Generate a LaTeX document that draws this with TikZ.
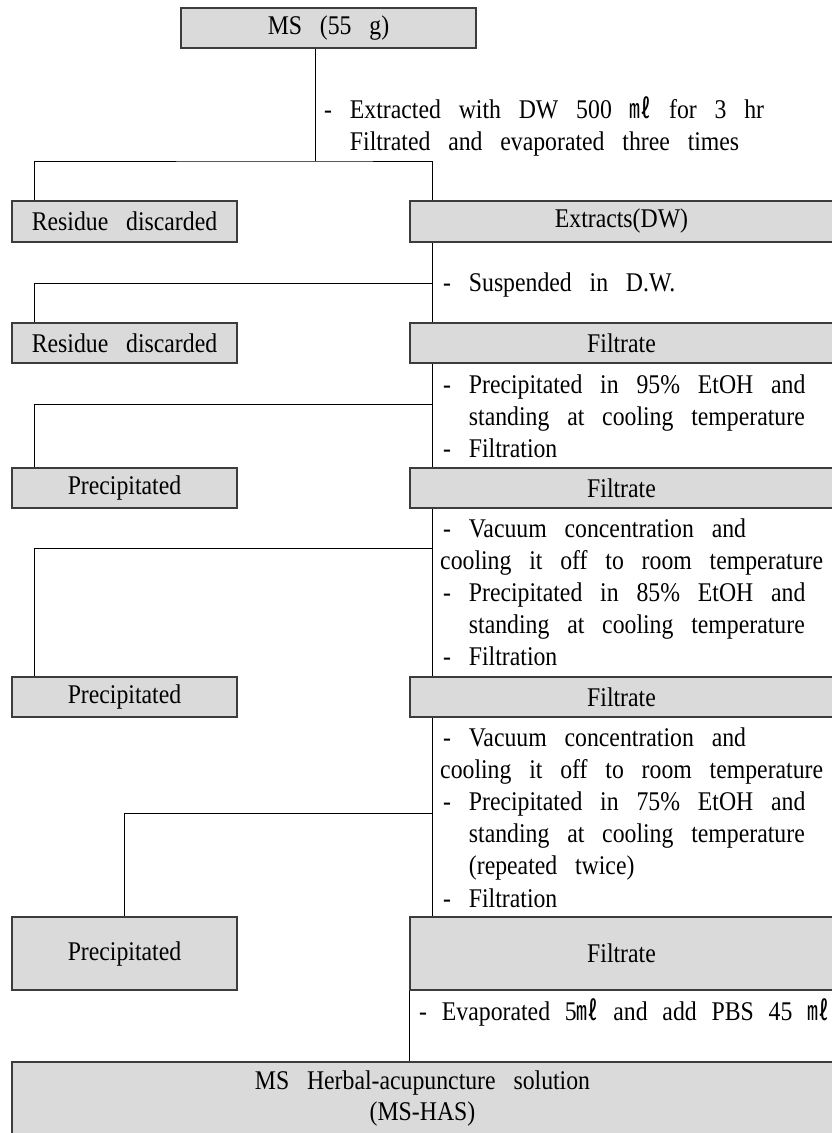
\documentclass[tikz,border=0pt]{standalone}
\usepackage{fontspec}
\setmainfont{Liberation Serif}[FakeStretch=0.88, WordSpace=3]
\newfontfamily\cjk{Noto Sans CJK KR}[FakeStretch=0.8]
\usetikzlibrary{positioning}
\definecolor{boxfill}{RGB}{218,218,218}
\definecolor{boxline}{RGB}{60,60,60}
\newcommand{\ml}{{\cjk ㎖}}
\newcommand{\bul}{-\ }
\newcommand{\ind}{\phantom{-\ }}

\tikzset{
  stepbox/.style={draw=boxline, fill=boxfill, line width=1.2pt, inner sep=0pt,
    font=\fontsize{27}{31}\selectfont},
  note/.style={anchor=base west, inner sep=0pt, font=\fontsize{27}{32}\selectfont},
  link/.style={line width=0.9pt}
}

\begin{document}
\begin{tikzpicture}[x=1pt, y=-1pt]
  \useasboundingbox (0,0) rectangle (832,1133);

  % boxes
  \node[stepbox, minimum width=295pt, minimum height=40pt] (ms) at (328.5,28) {MS (55 g)};
  \node[stepbox, minimum width=225pt, minimum height=41pt] (res1) at (124.5,221.5) {Residue discarded};
  \node[stepbox, minimum width=423pt, minimum height=41pt] (ext) at (621.5,221.5) {Extracts(DW)};
  \node[stepbox, minimum width=225pt, minimum height=40pt] (res2) at (124.5,343) {Residue discarded};
  \node[stepbox, minimum width=423pt, minimum height=40pt] (filt1) at (621.5,343) {Filtrate};
  \node[stepbox, minimum width=225pt, minimum height=40pt] (prec1) at (124.5,488) {Precipitated};
  \node[stepbox, minimum width=423pt, minimum height=40pt] (filt2) at (621.5,488) {Filtrate};
  \node[stepbox, minimum width=225pt, minimum height=40pt] (prec2) at (124.5,697) {Precipitated};
  \node[stepbox, minimum width=423pt, minimum height=40pt] (filt3) at (621.5,697) {Filtrate};
  \node[stepbox, minimum width=225pt, minimum height=73pt] (prec3) at (124.5,953.5) {Precipitated};
  \node[stepbox, minimum width=423pt, minimum height=73pt] (filt4) at (621.5,953.5) {Filtrate};
  \node[stepbox, minimum width=821pt, minimum height=73pt, align=center] (final) at (422.5,1098.5)
    {MS Herbal-acupuncture solution\\(MS-HAS)};

  % branch points
  \coordinate (lx) at (34,0);
  \coordinate (j1) at (315,161);
  \coordinate (j2) at (432,283);
  \coordinate (j3) at (432,404);
  \coordinate (j4) at (432,548);
  \coordinate (j5) at (432,813);

  % connectors
  \draw[link] (ms.south -| j1) -- (j1);
  \draw[link] (res1.north -| lx) |- (j1) -| (ext.north -| j2);
  \draw[link] (ext.south -| j2) -- (filt1.north -| j2);
  \draw[link] (j2) -| (res2.north -| lx);
  \draw[link] (filt1.south -| j3) -- (filt2.north -| j3);
  \draw[link] (j3) -| (prec1.north -| lx);
  \draw[link] (filt2.south -| j4) -- (filt3.north -| j4);
  \draw[link] (j4) -| (prec2.north -| lx);
  \draw[link] (filt3.south -| j5) -- (filt4.north -| j5);
  \draw[link] (j5) -| (prec3.north);
  \draw[link] (filt4.south west) -- (filt4.south west |- final.north);

  % step notes
  \foreach \txt [count=\i] in {{\bul Extracted with DW 500 \ml\ for 3 hr},
      {\ind Filtrated and evaporated three times}}
    \node[note] (na\i) at (324,{118+32*(\i-1)}) {\txt};
  \node[note] (nb1) at (443,291) {\bul Suspended in D.W.};
  \foreach \txt [count=\i] in {{\bul Precipitated in 95\% EtOH and},
      {\ind standing at cooling temperature}, {\bul Filtration}}
    \node[note] (nc\i) at (443,{393+32*(\i-1)}) {\txt};
  \foreach \txt [count=\i] in {{\bul Vacuum concentration and},
      {\hspace{-3pt}cooling it off to room temperature},
      {\bul Precipitated in 85\% EtOH and},
      {\ind standing at cooling temperature}, {\bul Filtration}}
    \node[note] (nd\i) at (443,{537+32*(\i-1)}) {\txt};
  \foreach \txt [count=\i] in {{\bul Vacuum concentration and},
      {\hspace{-3pt}cooling it off to room temperature},
      {\bul Precipitated in 75\% EtOH and},
      {\ind standing at cooling temperature}, {\ind (repeated twice)},
      {\bul Filtration}}
    \node[note] (ne\i) at (443,{746+32.2*(\i-1)}) {\txt};
  \node[note] (nf1) at (419,1020)
    {\spaceskip=0.55em\relax \bul Evaporated 5\ml\ and add PBS 45 \ml};
\end{tikzpicture}
\end{document}
